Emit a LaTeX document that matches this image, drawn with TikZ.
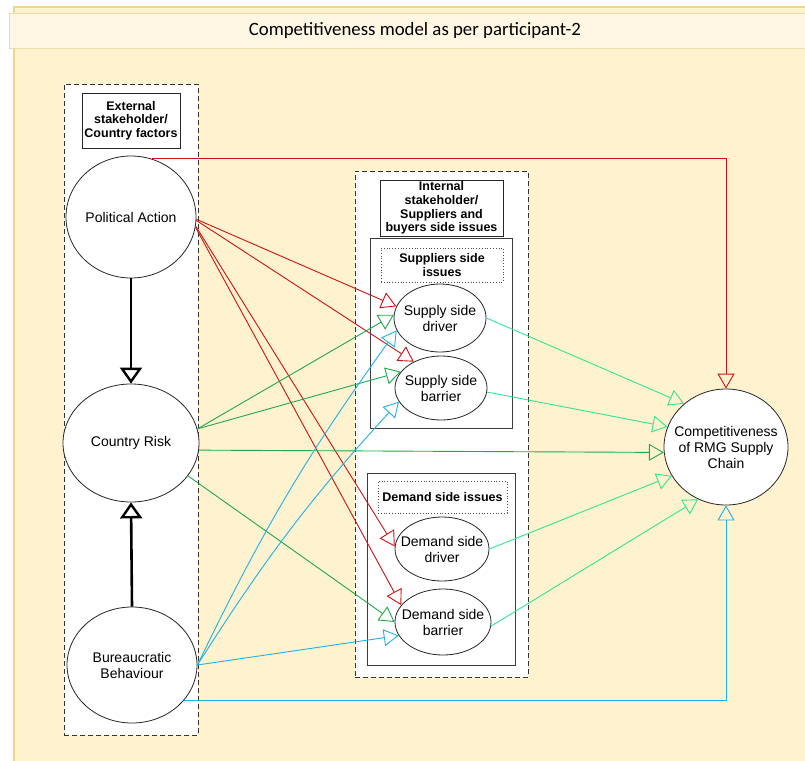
\documentclass[tikz,border=0pt]{standalone}
\usepackage{fontspec}
\setmainfont{Liberation Sans}
\newfontfamily\titlefont{Carlito}
\usetikzlibrary{arrows.meta,shapes.geometric}

\definecolor{panelfill}{RGB}{255,242,207}
\definecolor{paneledge}{RGB}{240,214,140}
\definecolor{bandfill}{RGB}{255,247,228}
\definecolor{bandedge}{RGB}{238,220,170}
\definecolor{linkred}{RGB}{204,20,20}
\definecolor{linkgreen}{RGB}{30,170,75}
\definecolor{linkmint}{RGB}{45,232,145}
\definecolor{linkblue}{RGB}{30,178,232}
\definecolor{boxgrey}{RGB}{60,60,60}

\tikzset{
  lbl/.style={font=\fontsize{14}{16}\selectfont, align=center},
  % negative inner sep lets the minimum size alone fix the ellipse
  factor/.style={ellipse, draw=black!85, fill=white, line width=0.8pt, inner sep=-30pt, lbl},
  headbox/.style={rectangle, draw=black!85, fill=white, line width=0.9pt, inner sep=0pt,
    align=center, font=\fontsize{12.5}{13.6}\selectfont\bfseries},
  dotbox/.style={rectangle, draw=black!70, dotted, line width=0.8pt, fill=white, inner sep=0pt,
    align=center, font=\fontsize{12.5}{13.6}\selectfont\bfseries},
  groupbox/.style={rectangle, draw=black!80, dash pattern=on 5pt off 3pt, line width=0.9pt,
    fill=white, inner sep=0pt, anchor=north west},
  subbox/.style={rectangle, draw=boxgrey, line width=1pt, fill=white, inner sep=0pt, anchor=north west},
  link/.style={line width=0.9pt, -{Triangle[open, length=15pt, width=17pt]}},
  redlink/.style={link, draw=linkred},
  greenlink/.style={link, draw=linkgreen},
  mintlink/.style={link, draw=linkmint},
  bluelink/.style={link, draw=linkblue},
  heavy/.style={line width=2.6pt, draw=black, -{Triangle[open, length=16pt, width=22pt, line width=2.4pt]}}
}

\begin{document}
\begin{tikzpicture}[x=1pt, y=-1pt]
\useasboundingbox (0,0) rectangle (805,760);

% slide panel and title band
\fill[panelfill] (14,7) rectangle (830,780);
\draw[paneledge, line width=1.2pt] (14,780) -- (14,7) -- (830,7);
\node[rectangle, draw=bandedge, fill=bandfill, line width=0.8pt, minimum width=811pt,
  minimum height=35pt, inner sep=0pt, anchor=west, font=\titlefont\fontsize{18.8}{21}\selectfont]
  (title) at (9,30.5) {Competitiveness model as per participant-2};

% external stakeholder group
\node[groupbox, minimum width=134pt, minimum height=651pt] (extgrp) at (64,84) {};
\node[headbox, minimum width=98pt, minimum height=55pt] (exthead) at (131,120.5)
  {External\\stakeholder/\\Country factors};

% internal stakeholder group
\node[groupbox, minimum width=173pt, minimum height=506pt] (intgrp) at (355,171) {};
\node[headbox, minimum width=123pt, minimum height=56pt] (inthead) at (441.5,208)
  {Internal\\stakeholder/\\Suppliers and\\buyers side issues};
\node[subbox, minimum width=142pt, minimum height=190pt] (supgrp) at (370,238) {};
\node[dotbox, minimum width=122pt, minimum height=34pt] (suphead) at (442,265)
  {Suppliers side\\issues};
\node[subbox, minimum width=148pt, minimum height=192pt] (demgrp) at (367,473) {};
\node[dotbox, minimum width=129pt, minimum height=32pt] (demhead) at (442.5,497)
  {Demand side issues};

% factors
\node[factor, minimum width=130pt, minimum height=122pt] (pa) at (131,217) {Political Action};
\node[factor, minimum width=136pt, minimum height=118pt] (cr) at (131,443) {Country Risk};
\node[factor, minimum width=130pt, minimum height=116pt] (bb) at (132,665) {Bureaucratic\\Behaviour};
\node[factor, minimum width=92pt, minimum height=68pt] (sdrv) at (440,318) {Supply side\\driver};
\node[factor, minimum width=92pt, minimum height=64pt] (sbar) at (441,388) {Supply side\\barrier};
\node[factor, minimum width=94pt, minimum height=64pt] (ddrv) at (442,549) {Demand side\\driver};
\node[factor, minimum width=96pt, minimum height=66pt] (dbar) at (443,622) {Demand side\\barrier};
\node[factor, minimum width=124pt, minimum height=116pt] (comp) at (726,447)
  {Competitiveness\\of RMG Supply\\Chain};

% country factors among themselves
\draw[heavy] (pa.south) -- (cr.north);
\draw[heavy] (bb.north) -- (cr.south);

% political action
\draw[redlink] (pa.70) -| (comp.north);
\draw[redlink] (pa.-2) -- (sdrv.165);
\draw[redlink] (pa.-3) -- (sbar.136);
\draw[redlink] (pa.-8) -- (ddrv.177);
\draw[redlink] (pa.-9) -- (dbar.158);

% country risk
\draw[greenlink] (cr.12) -- (sdrv.176);
\draw[greenlink] (cr.12) -- (sbar.158);
\draw[greenlink] (cr.-6) -- (comp.185);
\draw[greenlink] (cr.-30) -- (dbar.180);

% bureaucratic behaviour
\draw[bluelink] (bb.east) to[bend left=5] (sdrv.196);
\draw[bluelink] (bb.east) to[bend left=5] (sbar.198);
\draw[bluelink] (bb.east) -- (dbar.197);
\draw[bluelink] (bb.-34) -| (comp.south);

% supplier and demand issues
\draw[mintlink] (sdrv.east) -- (comp.134);
\draw[mintlink] (sbar.-5) -- (comp.161);
\draw[mintlink] (ddrv.east) -- (comp.208);
\draw[mintlink] (dbar.-5) -- (comp.242);
\end{tikzpicture}
\end{document}
